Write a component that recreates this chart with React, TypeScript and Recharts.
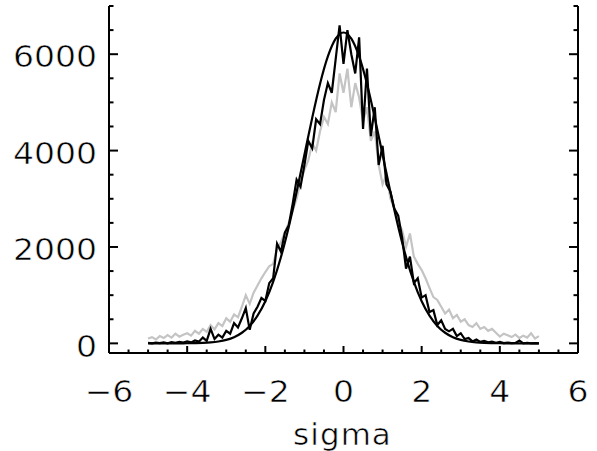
import React from 'react';
import { LineChart, Line, XAxis, YAxis } from 'recharts';

// ---- axes ----
const X_TICKS = [-6, -5.5, -5, -4.5, -4, -3.5, -3, -2.5, -2, -1.5, -1, -0.5, 0, 0.5, 1, 1.5, 2, 2.5, 3, 3.5, 4, 4.5, 5, 5.5, 6];
const X_MAJOR = [-6, -4, -2, 0, 2, 4, 6];
const X_LABELS = ['\u22126', '\u22124', '\u22122', '0', '2', '4', '6'];
const Y_TICKS = [0, 500, 1000, 1500, 2000, 2500, 3000, 3500, 4000, 4500, 5000, 5500, 6000, 6500, 7000];
const Y_MAJOR = [0, 2000, 4000, 6000];
const Y_LABELS = ['0', '2000', '4000', '6000'];
const X_TITLE = 'sigma';

// ---- smooth fit (x step 0.2 from -5 to 5) ----
const FIT_X = [-5, -4.8, -4.6, -4.4, -4.2, -4, -3.8, -3.6, -3.4, -3.2, -3, -2.8, -2.6, -2.4, -2.2, -2, -1.8, -1.6, -1.4, -1.2, -1, -0.8, -0.6, -0.4, -0.2, 0, 0.2, 0.4, 0.6, 0.8, 1, 1.2, 1.4, 1.6, 1.8, 2, 2.2, 2.4, 2.6, 2.8, 3, 3.2, 3.4, 3.6, 3.8, 4, 4.2, 4.4, 4.6, 4.8, 5];
const FIT_Y = [0, 0, 0, 0, 1, 2, 5, 10, 20, 39, 72, 128, 220, 362, 574, 873, 1276, 1793, 2421, 3140, 3912, 4683, 5388, 5954, 6322, 6450, 6322, 5954, 5388, 4683, 3912, 3140, 2421, 1793, 1276, 873, 574, 362, 220, 128, 72, 39, 20, 10, 5, 2, 1, 0, 0, 0, 0];

// ---- histograms (bins of 0.1 from -5 to 5) ----
const BIN_X = Array.from({ length: 101 }, (_, i) => (i - 50) / 10);
const BLACK_Y = [
  10, 0, 15, 5, 20, 0, 25, 10, 30, 15,
  40, 20, 60, 35, 120, 50, 300, 90, 180, 120,
  260, 200, 420, 330, 520, 730, 280, 620, 760, 940,
  880, 1250, 1350, 2070, 1900, 2300, 2450, 2900, 3400, 3250,
  3700, 4200, 4050, 4650, 4550, 5050, 5400, 5200, 5900, 6600,
  5800, 6500, 6000, 5600, 6350, 4450, 5700, 4300, 4900, 3700,
  4100, 3300, 3150, 2800, 2650, 2200, 1550, 1800, 1250, 1350,
  950, 1000, 650, 690, 380, 480, 300, 250, 300, 150,
  210, 90, 110, 40, 80, 30, 50, 20, 35, 10,
  30, 5, 15, 5, 10, 60, 0, 10, 0, 5,
  0,
];
const GRAY_Y = [
  100, 130, 80, 150, 110, 170, 120, 200, 140, 180,
  210, 160, 260, 200, 300, 240, 380, 290, 420, 360,
  520, 450, 600, 540, 760, 1000, 820, 1050, 1200, 1350,
  1480, 1600, 1650, 1950, 2100, 2300, 2500, 2750, 3000, 3350,
  3600, 3800, 4150, 4000, 4400, 4700, 4550, 5000, 4800, 5600,
  5200, 5700, 4900, 5400, 5100, 4600, 4900, 4200, 4400, 3700,
  3300, 3500, 3000, 2800, 2500, 2350, 2000, 2280, 1800, 1650,
  1520, 1350, 1150, 960, 900, 760, 620, 700, 520, 590,
  450, 500, 380, 340, 420, 300, 340, 260, 300, 220,
  140, 200, 170, 130, 180, 110, 160, 120, 210, 100,
  150,
];

const fitRows = FIT_X.map((x, i) => ({ x, y: FIT_Y[i] }));
const blackRows = BIN_X.map((x, i) => ({ x, y: BLACK_Y[i] }));
const grayRows = BIN_X.map((x, i) => ({ x, y: GRAY_Y[i] }));

const FONT = "'DejaVu Sans', 'Liberation Sans', sans-serif";
const FS = 29.5;
const SX = 1.12;
// slightly thin the glyph strokes so they read like a vector font
const thin = { stroke: '#fff', strokeWidth: 0.55 };

function BottomTick(props: any) {
  const { x, y, payload } = props;
  const mi = X_MAJOR.indexOf(payload.value);
  const len = mi >= 0 ? 7 : 3.5;
  return (
    <g>
      <line x1={x} y1={y} x2={x} y2={y - len} stroke="#000" strokeWidth={2} />
      {mi >= 0 && (
        <text transform={`translate(${x},${y + 48.7}) scale(${SX},1)`} textAnchor="middle" fontFamily={FONT} fontSize={FS} fill="#000" {...thin}>
          {X_LABELS[mi]}
        </text>
      )}
    </g>
  );
}

function TopTick(props: any) {
  const { x, y, payload } = props;
  const major = X_MAJOR.indexOf(payload.value) >= 0;
  const len = major ? 7 : 3.5;
  return <line x1={x} y1={y} x2={x} y2={y + len} stroke="#000" strokeWidth={2} />;
}

function LeftTick(props: any) {
  const { x, y, payload } = props;
  const mi = Y_MAJOR.indexOf(payload.value);
  const len = mi >= 0 ? 9 : 4.5;
  return (
    <g>
      <line x1={x} y1={y} x2={x + len} y2={y} stroke="#000" strokeWidth={2} />
      {mi >= 0 && (
        <text transform={`translate(${x - 12},${y + 13.3}) scale(${SX},1)`} textAnchor="end" fontFamily={FONT} fontSize={FS} fill="#000" {...thin}>
          {Y_LABELS[mi]}
        </text>
      )}
    </g>
  );
}

function RightTick(props: any) {
  const { x, y, payload } = props;
  const major = Y_MAJOR.indexOf(payload.value) >= 0;
  const len = major ? 9 : 4.5;
  return <line x1={x} y1={y} x2={x - len} y2={y} stroke="#000" strokeWidth={2} />;
}

function TitleLabel(props: any) {
  const vb = props.viewBox || { x: 109, y: 353, width: 469, height: 98 };
  const cx = vb.x + vb.width / 2;
  return (
    <text transform={`translate(${cx - 1},${vb.y + 92}) scale(1.05,1)`} textAnchor="middle" fontFamily={FONT} fontSize={FS} fill="#000" letterSpacing={1} {...thin}>
      {X_TITLE}
    </text>
  );
}

const axisLine = { stroke: '#000', strokeWidth: 2 };

export default function App() {
  return (
    <div style={{ position: 'absolute', left: 0, top: 0, width: 597, height: 451, background: '#fff' }}>
      <LineChart width={597} height={451} margin={{ top: 6, right: 0, bottom: 0, left: 0 }}>
        <XAxis
          xAxisId="b"
          type="number"
          dataKey="x"
          domain={[-6, 6]}
          ticks={X_TICKS}
          interval={0}
          height={98}
          tickSize={0}
          tickMargin={0}
          tickLine={false}
          axisLine={axisLine}
          tick={<BottomTick />}
          label={<TitleLabel />}
          allowDataOverflow
        />
        <XAxis
          xAxisId="t"
          orientation="top"
          type="number"
          dataKey="x"
          domain={[-6, 6]}
          ticks={X_TICKS}
          interval={0}
          height={0}
          tickSize={0}
          tickMargin={0}
          tickLine={false}
          axisLine={axisLine}
          tick={<TopTick />}
          allowDataOverflow
        />
        <YAxis
          yAxisId="l"
          type="number"
          domain={[-200, 7000]}
          ticks={Y_TICKS}
          interval={0}
          width={109}
          tickSize={0}
          tickMargin={0}
          tickLine={false}
          axisLine={axisLine}
          tick={<LeftTick />}
          allowDataOverflow
        />
        <YAxis
          yAxisId="r"
          orientation="right"
          type="number"
          domain={[-200, 7000]}
          ticks={Y_TICKS}
          interval={0}
          width={19}
          tickSize={0}
          tickMargin={0}
          tickLine={false}
          axisLine={axisLine}
          tick={<RightTick />}
          allowDataOverflow
        />
        <Line xAxisId="b" yAxisId="l" data={grayRows} dataKey="y" type="linear" stroke="#c4c4c4" strokeWidth={2.2} dot={false} isAnimationActive={false} />
        <Line xAxisId="b" yAxisId="l" data={blackRows} dataKey="y" type="linear" stroke="#000" strokeWidth={2.2} dot={false} isAnimationActive={false} />
        <Line xAxisId="b" yAxisId="l" data={fitRows} dataKey="y" type="monotone" stroke="#000" strokeWidth={2.2} dot={false} isAnimationActive={false} />
      </LineChart>
    </div>
  );
}
